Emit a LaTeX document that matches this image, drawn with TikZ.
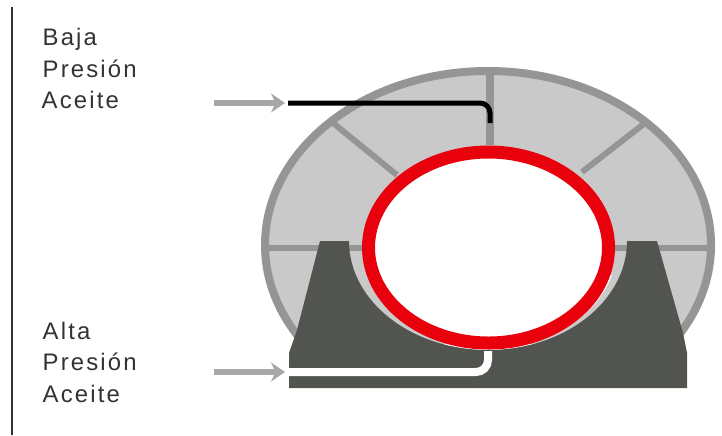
\documentclass[tikz,border=0pt]{standalone}
\usepackage{xcolor}
\usepackage{fontspec}
\setmainfont{Liberation Sans}
\usetikzlibrary{arrows.meta}
\definecolor{segfill}{HTML}{c9c9c9}
\definecolor{segline}{HTML}{959595}
\definecolor{flowgray}{HTML}{a5a8a5}
\definecolor{padgray}{HTML}{52554f}
\definecolor{ringred}{HTML}{e8000c}
\tikzset{
  spoke/.style={segline,line width=0.06cm},
  flowarrow/.style={flowgray,line width=0.06cm,-{Stealth[length=0.14cm,width=0.19cm]}},
  labeltext/.style={anchor=base west,inner sep=0pt,text=black!80,font=\fontsize{6.8pt}{6.8pt}\selectfont\addfontfeatures{LetterSpace=9}}
}
\begin{document}
\begin{tikzpicture}[x=1cm,y=1cm]
  \useasboundingbox (0,0) rectangle (7.22,4.35);
  \fill[white] (0,0) rectangle (7.22,4.35);
  \draw[black!80,line width=0.017cm] (0.12,4.28) -- (0.12,0);
  % bearing segments
  \begin{scope}
    \clip (2.5,0.92) rectangle (7.22,3.75);
    \draw[segline,fill=segfill,line width=0.08cm] (4.88,1.90) ellipse[x radius=2.23,y radius=1.74];
  \end{scope}
  \draw[spoke,line width=0.08cm] (4.90,3.64) -- (4.90,2.90);
  \draw[spoke] (3.33,3.12) -- (3.97,2.60);
  \draw[spoke] (6.45,3.12) -- (5.82,2.63);
  \draw[spoke] (2.65,1.87) -- (7.10,1.87);
  % pedestal
  \fill[padgray] (3.20,1.94) -- (3.49,1.94) arc[start angle=180,end angle=360,x radius=1.39,y radius=1.09]
    -- (6.57,1.94) -- (6.83,1.02) -- (6.87,0.82) -- (6.87,0.47) -- (2.89,0.47) -- (2.89,0.82) -- (2.97,1.05) -- cycle;
  % ring
  \draw[white,line width=0.02cm] (3.68,1.60) arc[start angle=197,end angle=343,x radius=1.27,y radius=1.02];
  \draw[ringred,fill=white,line width=0.13cm] (4.885,1.875) ellipse[x radius=1.20,y radius=0.955];
  % oil lines
  \draw[black,line width=0.05cm,rounded corners=0.1cm] (2.88,3.32) -- (4.90,3.32) -- (4.90,3.12);
  \draw[white,line width=0.08cm,rounded corners=0.12cm] (2.89,0.63) -- (4.88,0.63) -- (4.88,0.84);
  \coordinate (lowstart) at (2.14,3.32);
  \coordinate (lowend) at (2.85,3.32);
  \coordinate (highstart) at (2.14,0.63);
  \coordinate (highend) at (2.85,0.63);
  \draw[flowarrow] (lowstart) -- (lowend);
  \draw[flowarrow] (highstart) -- (highend);
  % labels
  \node[labeltext] (baja) at (0.42,3.90) {Baja};
  \node[labeltext] (bajap) at (0.42,3.58) {Presión};
  \node[labeltext] (bajaa) at (0.41,3.27) {Aceite};
  \node[labeltext] (alta) at (0.42,0.96) {Alta};
  \node[labeltext] (altap) at (0.42,0.65) {Presión};
  \node[labeltext] (altaa) at (0.42,0.33) {Aceite};
\end{tikzpicture}
\end{document}
